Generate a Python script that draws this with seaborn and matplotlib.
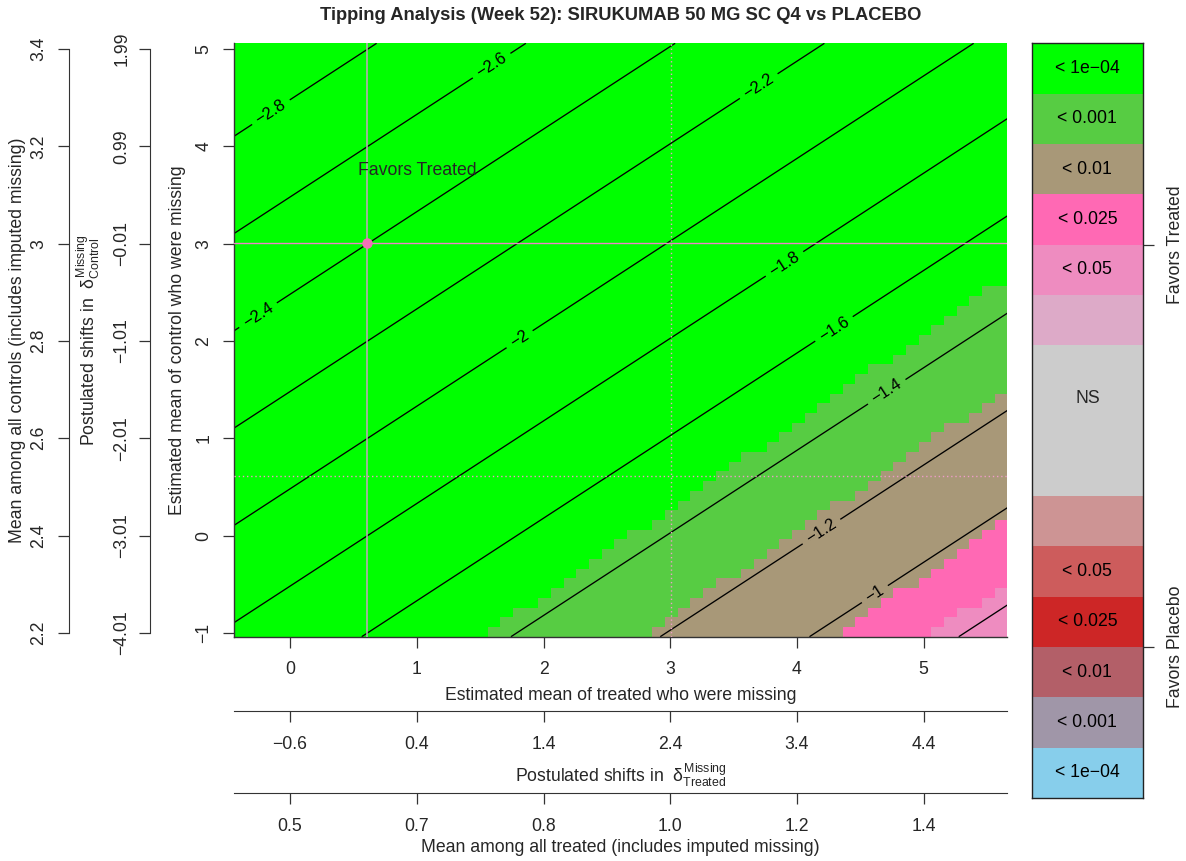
import math
import numpy as np
import pandas as pd
import matplotlib
matplotlib.use("Agg")
import matplotlib.pyplot as plt
from matplotlib.colors import ListedColormap
import seaborn as sns

# ---------------- values ----------------
title = "Tipping Analysis (Week 52): SIRUKUMAB 50 MG SC Q4 vs PLACEBO"

# grid of postulated shifts (one image cell per shift)
shift_step = 0.1
delta_treated = np.round(np.arange(-1.0, 5.0 + 1e-9, shift_step), 2)
delta_control = np.round(np.arange(-4.0, 2.0 + 1e-9, shift_step), 2)

# MAR estimates of the missing means (reference lines / dot)
treated_mar = 0.61
control_mar = 3.01

# overall means (incl. imputed) as a function of the missing mean
treated_all_intercept, treated_all_slope = 0.505, 0.1698
control_all_intercept, control_all_slope = 2.409, 0.20
# standard error of the difference
se_intercept, se_slope = 0.366, 0.0022

contour_levels = [-2.8, -2.6, -2.4, -2.2, -2.0, -1.8, -1.6, -1.4, -1.2, -1.0, -0.8]
label_spots = [(-0.158, 4.366), (1.592, 4.828), (-0.25, 2.26), (3.697, 4.623),
               (1.80, 2.041), (3.894, 2.808), (4.276, 2.157), (4.711, 1.473),
               (4.197, 0.034), (4.605, -0.582)]

p_breaks = [1e-4, 1e-3, 1e-2, 0.025, 0.05, 0.10]
legend_labels = ["< 1e\u221204", "< 0.001", "< 0.01", "< 0.025", "< 0.05", "",
                 "", "", "", "",
                 "< 0.05", "< 0.025", "< 0.01", "< 0.001", "< 1e\u221204"]
legend_colors = ["#00FF00", "#57CC43", "#A89878", "#FF69B4", "#EE8CC0", "#DDAAC8",
                 "#CCCCCC", "#CCCCCC", "#CCCCCC",
                 "#CD9494", "#CD5C5C", "#CD2626", "#B35F68", "#A096A8", "#87CEEB"]

x_ticks = [0, 1, 2, 3, 4, 5]
x_tick_labels = ["0", "1", "2", "3", "4", "5"]
treated_shift_labels = ["\u22120.6", "0.4", "1.4", "2.4", "3.4", "4.4"]
treated_all_labels = ["0.5", "0.7", "0.8", "1.0", "1.2", "1.4"]
y_ticks = [-1, 0, 1, 2, 3, 4, 5]
y_tick_labels = ["\u22121", "0", "1", "2", "3", "4", "5"]
control_shift_labels = ["\u22124.01", "\u22123.01", "\u22122.01", "\u22121.01",
                        "\u22120.01", "0.99", "1.99"]
control_all_labels = ["2.2", "2.4", "2.6", "2.8", "3", "3.2", "3.4"]

# ---------------- style ----------------
sns.set_style("white")
plt.rcParams['font.family'] = ['Liberation Sans', 'DejaVu Sans']
plt.rcParams['mathtext.fontset'] = 'custom'
plt.rcParams['mathtext.rm'] = 'Liberation Sans'
plt.rcParams['mathtext.it'] = 'Liberation Sans'
plt.rcParams['mathtext.bf'] = 'Liberation Sans:bold'
plt.rcParams['axes.unicode_minus'] = True

FS = 12.7
W, H = 1186, 861
fig = plt.figure(figsize=(W / 100, H / 100), dpi=100)


def rect(l, t, r, b):
    return [l / W, 1 - b / H, (r - l) / W, (b - t) / H]


def fx(px):
    return px / W


def fy(py):
    return 1 - py / H


def treated_all(x):
    return treated_all_intercept + treated_all_slope * x


def control_all(y):
    return control_all_intercept + control_all_slope * y


# ---------------- grid values ----------------
x_centers = treated_mar + delta_treated
y_centers = control_mar + delta_control
X, Y = np.meshgrid(x_centers, y_centers)
Z = treated_all(X) - control_all(Y)
SE = se_intercept + se_slope * X
T = np.abs(Z / SE)
P = np.vectorize(lambda t: math.erfc(t / math.sqrt(2)))(T)
k = np.searchsorted(p_breaks, P, side='right')
cat = np.where(k >= 6, 7, np.where(Z < 0, k, 14 - k))

df = pd.DataFrame(cat[::-1], index=np.round(y_centers[::-1], 2),
                  columns=np.round(x_centers, 2))

nx, ny = len(x_centers), len(y_centers)
x_lo = x_centers[0] - shift_step / 2
x_hi = x_centers[-1] + shift_step / 2
y_lo = y_centers[0] - shift_step / 2
y_hi = y_centers[-1] + shift_step / 2


def ix(x):
    return (np.asarray(x, dtype=float) - x_lo) / shift_step


def iy(y):
    return (y_hi - np.asarray(y, dtype=float)) / shift_step


cmap = ListedColormap(legend_colors)
TICKC = '#333333'

# ---------------- main panel ----------------
ax = fig.add_axes(rect(234.3, 43.3, 1007.3, 636.7))
sns.heatmap(df, ax=ax, cmap=cmap, vmin=-0.5, vmax=14.5, cbar=False,
            xticklabels=False, yticklabels=False)

xf = np.linspace(x_lo, x_hi, 300)
yf = np.linspace(y_lo, y_hi, 300)
XF, YF = np.meshgrid(xf, yf)
ZF = treated_all(XF) - control_all(YF)
cs = ax.contour(ix(XF), iy(YF), ZF, levels=contour_levels, colors='black',
                linewidths=0.95, linestyles='solid', negative_linestyles='solid')
ax.clabel(cs, manual=[(float(ix(a)), float(iy(b))) for a, b in label_spots],
          inline=True, inline_spacing=6, fontsize=12,
          fmt=lambda v: f"{v:g}".replace("-", "\u2212"))

ax.axvline(ix(treated_mar), color='#C8A2C0', lw=1.1, zorder=3)
ax.axhline(iy(control_mar), color='#EE82C8', lw=1.0, zorder=3)
ax.axvline(ix(control_mar), color='#EE9CC8', lw=1.0, ls=(0, (1, 2)), zorder=3)
ax.axhline(iy(treated_mar), color='#EE9CC8', lw=1.0, ls=(0, (1, 2)), zorder=3)
ax.plot([ix(treated_mar)], [iy(control_mar)], 'o', ms=7.5, color='#F070B8',
        mec='none', zorder=4)
ax.text(ix(1.003), iy(3.753), "Favors Treated", ha='center', va='center',
        fontsize=FS)

ax.set_xlim(0, nx)
ax.set_ylim(ny, 0)
for s in ['top', 'right']:
    ax.spines[s].set_visible(False)
for s in ['left', 'bottom']:
    ax.spines[s].set_visible(True)
    ax.spines[s].set_color(TICKC)
    ax.spines[s].set_linewidth(1.0)
ax.set_xticks(ix(x_ticks))
ax.set_xticklabels(x_tick_labels)
ax.set_yticks(iy(y_ticks))
ax.set_yticklabels(y_tick_labels, rotation=90, va='center')
ax.tick_params(axis='x', bottom=True, direction='out', length=8, width=0.9,
               color=TICKC, labelsize=FS, pad=9.5)
ax.tick_params(axis='y', left=True, direction='out', length=8, width=0.9,
               color=TICKC, labelsize=FS, pad=7.7)
ax.set_xlabel("")
ax.set_ylabel("")

# ---------------- extra bottom axes ----------------
def bottom_axis(ypix, labels):
    a = fig.add_axes(rect(234.3, ypix - 1, 1007.3, ypix))
    a.patch.set_visible(False)
    for s in ['top', 'left', 'right']:
        a.spines[s].set_visible(False)
    a.spines['bottom'].set_visible(True)
    a.spines['bottom'].set_color(TICKC)
    a.set_xlim(0, nx)
    a.set_yticks([])
    a.set_xticks(ix(x_ticks))
    a.set_xticklabels(labels)
    a.tick_params(axis='x', bottom=True, direction='out', length=8, width=0.9,
                  color=TICKC, labelsize=FS, pad=9.8)
    return a


bottom_axis(711, treated_shift_labels)
bottom_axis(793, treated_all_labels)


def left_axis(xpix, labels, pad):
    a = fig.add_axes(rect(xpix, 43.3, xpix + 1, 636.7))
    a.patch.set_visible(False)
    for s in ['top', 'bottom', 'right']:
        a.spines[s].set_visible(False)
    a.spines['left'].set_visible(True)
    a.spines['left'].set_color(TICKC)
    a.set_ylim(ny, 0)
    a.spines['left'].set_bounds(float(iy(-1)), float(iy(5)))
    a.set_xticks([])
    a.set_yticks(iy(y_ticks))
    a.set_yticklabels(labels, rotation=90, va='center')
    a.tick_params(axis='y', left=True, direction='out', length=8, width=0.9,
                  color=TICKC, labelsize=FS, pad=pad)
    return a


left_axis(150, control_shift_labels, 6.0)
left_axis(69, control_all_labels, 7.4)

# ---------------- axis titles ----------------
cx = fx((234.3 + 1007.3) / 2)
cy = fy((43.3 + 636.7) / 2)
fig.text(cx, fy(695), "Estimated mean of treated who were missing",
         ha='center', va='center', fontsize=FS)
fig.text(cx, fy(775),
         r"Postulated shifts in  $\delta_{\mathrm{Treated}}^{\mathrm{Missing}}$",
         ha='center', va='center', fontsize=FS)
fig.text(cx, fy(847), "Mean among all treated (includes imputed missing)",
         ha='center', va='center', fontsize=FS)
fig.text(fx(178), cy, "Estimated mean of control who were missing",
         ha='center', va='center', rotation=90, fontsize=FS)
fig.text(fx(88), cy,
         r"Postulated shifts in  $\delta_{\mathrm{Control}}^{\mathrm{Missing}}$",
         ha='center', va='center', rotation=90, fontsize=FS)
fig.text(fx(18), cy, "Mean among all controls (includes imputed missing)",
         ha='center', va='center', rotation=90, fontsize=FS)
fig.text(cx, fy(15), title, ha='center', va='center', fontsize=13.2,
         fontweight='bold')

# ---------------- legend column ----------------
axc = fig.add_axes(rect(1031.7, 43.3, 1143, 798))
leg = np.arange(len(legend_colors)).reshape(-1, 1)
annot = np.array(legend_labels, dtype=object).reshape(-1, 1)
sns.heatmap(leg, ax=axc, cmap=cmap, vmin=-0.5, vmax=14.5, cbar=False,
            annot=annot, fmt='', annot_kws=dict(color='black', fontsize=FS),
            xticklabels=False, yticklabels=False)
axc.text(0.5, 7.05, "NS", ha='center', va='center', fontsize=FS)
for s in axc.spines.values():
    s.set_visible(True)
    s.set_color('#222222')
    s.set_linewidth(1.0)
axc.yaxis.tick_right()
axc.set_yticks([4, 12])
axc.set_yticklabels(["Favors Treated", "Favors Placebo"], rotation=90,
                    va='center')
axc.tick_params(axis='y', right=True, left=False, direction='out', length=8,
                width=0.9, color=TICKC, labelsize=FS, pad=9)
axc.set_xticks([])

fig.savefig("out.png", dpi=100)
